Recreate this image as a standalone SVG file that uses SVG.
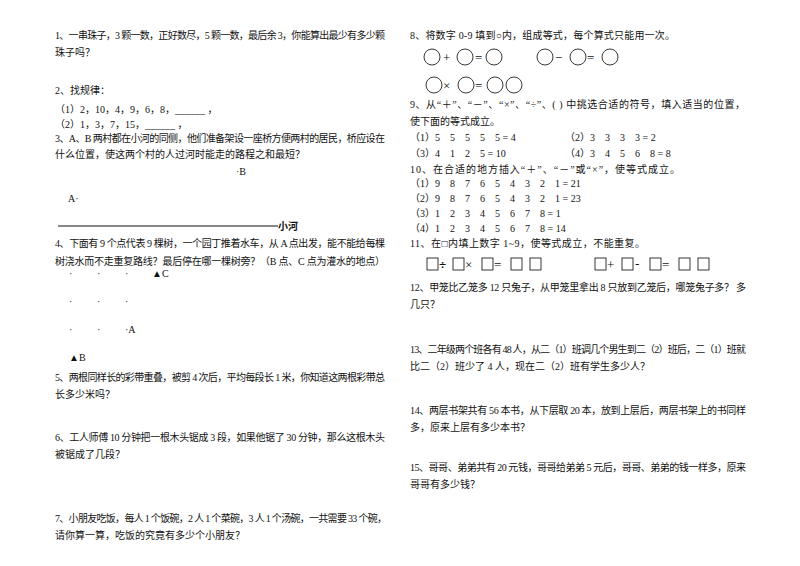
<svg xmlns="http://www.w3.org/2000/svg" width="800" height="566" viewBox="0 0 800 566">
<style>
text{font-family:"Liberation Serif","Noto Sans CJK SC",serif;font-size:10px;fill:#111}
.b{font-weight:bold}
.c{fill:none;stroke:#222;stroke-width:0.9}
.s{font-size:13px}
</style>
<rect width="800" height="566" fill="#fff"/>
<g id="left">
<text x="55" y="39" textLength="330" lengthAdjust="spacing">1、一串珠子，3 颗一数，正好数尽，5 颗一数，最后余 3，你能算出最少有多少颗</text>
<text x="55" y="56">珠子吗？</text>
<text x="55" y="94">2、找规律：</text>
<text x="55" y="113">（1）2，10，4，9，6，8，______   ，</text>
<text x="55" y="128">（2）1，3，7，15，______   ，</text>
<text x="55" y="142" textLength="330" lengthAdjust="spacing">3、A、B 两村都在小河的同侧，他们准备架设一座桥方便两村的居民，桥应设在</text>
<text x="55" y="158">什么位置，使这两个村的人过河时能走的路程之和最短？</text>
<text x="236" y="175">·B</text>
<text x="68" y="202">A·</text>
<line x1="58" y1="226" x2="278" y2="226" stroke="#111" stroke-width="1"/>
<text x="278" y="230" class="b">小河</text>
<text x="55" y="247" textLength="330" lengthAdjust="spacing">4、下面有 9 个点代表 9 棵树，一个园丁推着水车，从 A 点出发，能不能给每棵</text>
<text x="55" y="265" textLength="330" lengthAdjust="spacing">树浇水而不走重复路线？最后停在哪一棵树旁？（B 点、C 点为灌水的地点）</text>
<text x="69" y="277">·</text><text x="97" y="277">·</text><text x="125" y="277">·</text>
<text x="152" y="277">▲C</text>
<text x="69" y="305">·</text><text x="97" y="305">·</text><text x="125" y="305">·</text>
<text x="69" y="333">·</text><text x="97" y="333">·</text><text x="125" y="333">·A</text>
<text x="69" y="361">▲B</text>
<text x="55" y="381" textLength="330" lengthAdjust="spacing">5、两根同样长的彩带重叠，被剪 4 次后，平均每段长 1 米，你知道这两根彩带总</text>
<text x="55" y="398">长多少米吗？</text>
<text x="55" y="441" textLength="330" lengthAdjust="spacing">6、工人师傅 10 分钟把一根木头锯成 3 段，如果他锯了 30 分钟，那么这根木头</text>
<text x="55" y="458">被锯成了几段？</text>
<text x="55" y="522" textLength="332" lengthAdjust="spacing">7、小朋友吃饭，每人 1 个饭碗，2 人 1 个菜碗，3 人 1 个汤碗，一共需要 33 个碗，</text>
<text x="55" y="539">请你算一算，吃饭的究竟有多少个小朋友？</text>
</g>
<g id="right">
<text x="410" y="39" textLength="265" lengthAdjust="spacing">8、将数字 0-9 填到○内，组成等式，每个算式只能用一次。</text>
<circle class="c" cx="432" cy="57" r="8"/><text x="443" y="62" class="s">+</text>
<circle class="c" cx="465" cy="57" r="8"/><text x="475" y="62" class="s">=</text>
<circle class="c" cx="494" cy="57" r="8"/>
<circle class="c" cx="545" cy="57" r="8"/><text x="555" y="62" class="s">−</text>
<circle class="c" cx="578" cy="57" r="8"/><text x="587" y="62" class="s">=</text>
<circle class="c" cx="610" cy="57" r="8"/>
<circle class="c" cx="434" cy="85" r="8"/><text x="443" y="90" class="s">×</text>
<circle class="c" cx="466" cy="85" r="8"/><text x="475" y="90" class="s">=</text>
<circle class="c" cx="495" cy="85" r="8"/><circle class="c" cx="514" cy="85" r="8"/>
<text x="410" y="108" textLength="335" lengthAdjust="spacing">9、从“＋”、“－”、“×”、“÷”、( ) 中挑选合适的符号，填入适当的位置，</text>
<text x="410" y="125">使下面的等式成立。</text>
<text x="410" y="141">（1）5　5　5　5　5 = 4</text>
<text x="565" y="141">（2）3　3　3　3 = 2</text>
<text x="410" y="157">（3）4　1　2　5 = 10</text>
<text x="565" y="157">（4）3　4　5　6　8 = 8</text>
<text x="410" y="173" textLength="270" lengthAdjust="spacing">10、在合适的地方插入“＋”、“－”或“×”，使等式成立。</text>
<text x="410" y="187">（1）9　8　7　6　5　4　3　2　1 = 21</text>
<text x="410" y="202">（2）9　8　7　6　5　4　3　2　1 = 23</text>
<text x="410" y="217">（3）1　2　3　4　5　6　7　8 = 1</text>
<text x="410" y="232">（4）1　2　3　4　5　6　7　8 = 14</text>
<text x="410" y="247" textLength="235" lengthAdjust="spacing">11、在□内填上数字 1~9，使等式成立，不能重复。</text>
<rect class="c" x="427" y="258" width="11" height="12"/><text x="439" y="269" class="s b">÷</text>
<rect class="c" x="453" y="258" width="11" height="12"/><text x="465" y="269" class="s">×</text>
<rect class="c" x="482" y="258" width="11" height="12"/><text x="494" y="269" class="s">=</text>
<rect class="c" x="511" y="258" width="11" height="12"/><rect class="c" x="530" y="258" width="11" height="12"/>
<rect class="c" x="595" y="258" width="11" height="12"/><text x="607" y="269" class="s">+</text>
<rect class="c" x="622" y="258" width="11" height="12"/><text x="635" y="268" class="s">-</text>
<rect class="c" x="650" y="258" width="11" height="12"/><text x="662" y="269" class="s">=</text>
<rect class="c" x="679" y="258" width="11" height="12"/><rect class="c" x="698" y="258" width="11" height="12"/>
<text x="410" y="291" textLength="336" lengthAdjust="spacing">12、甲笼比乙笼多 12 只兔子，从甲笼里拿出 8 只放到乙笼后，哪笼兔子多？ 多</text>
<text x="410" y="308">几只？</text>
<text x="410" y="353" textLength="336" lengthAdjust="spacing">13、二年级两个班各有 48 人，从二（1）班调几个男生到二（2）班后，二（1）班就</text>
<text x="410" y="370">比二（2）班少了 4 人，现在二（2）班有学生多少人？</text>
<text x="410" y="414" textLength="336" lengthAdjust="spacing">14、两层书架共有 56 本书，从下层取 20 本，放到上层后，两层书架上的书同样</text>
<text x="410" y="431">多，原来上层有多少本书？</text>
<text x="410" y="471" textLength="336" lengthAdjust="spacing">15、哥哥、弟弟共有 20 元钱，哥哥给弟弟 5 元后，哥哥、弟弟的钱一样多，原来</text>
<text x="410" y="488">哥哥有多少钱？</text>
</g>
</svg>
